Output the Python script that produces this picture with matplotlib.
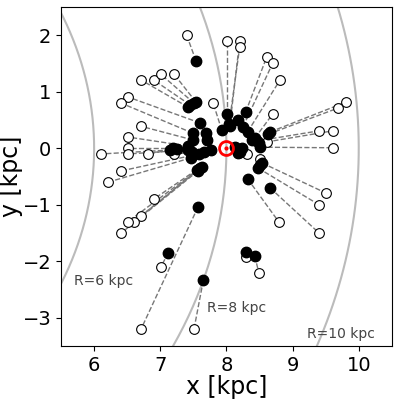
import matplotlib
matplotlib.use('Agg')
import matplotlib.pyplot as plt
import numpy as np

# current positions (filled) and past/projected positions (open), kpc
x_now = [7.54, 7.42, 7.45, 7.51, 7.54, 7.60, 7.49, 7.49, 7.42, 7.19,
         7.15, 7.42, 7.25, 7.48, 7.58, 7.46, 7.55, 7.60, 7.63, 7.58,
         7.57, 7.57, 7.12, 7.65, 8.29, 8.43, 8.54, 8.48, 8.32, 8.66,
         8.01, 8.05, 8.04, 7.93, 8.29, 8.25, 8.32, 8.43, 8.66, 8.63,
         8.46, 8.49, 8.51, 8.39, 8.20, 8.51, 8.13, 8.17, 8.23, 8.17,
         7.69, 7.71, 7.77, 7.66, 8.17]
y_now = [1.55, 0.73, 0.77, 0.80, 0.82, 0.45, 0.27, 0.15, 0.04, 0.01,
         -0.03, -0.03, -0.01, -0.07, -0.10, -0.17, -0.38, -0.35, -0.33, -0.37,
         -0.40, -1.04, -1.85, -2.34, -1.84, -1.91, -0.26, -0.35, -0.54, -0.70,
         0.61, 0.39, 0.43, 0.32, 0.64, 0.38, 0.29, 0.18, 0.29, 0.25,
         0.13, 0.09, 0.02, 0.15, -0.07, -0.30, 0.02, -0.03, 0.01, -0.08,
         0.27, 0.14, -0.03, -0.06, 0.50]
x_then = [7.40, 6.71, 6.90, 7.01, 7.21, 6.51, 6.41, 6.71, 6.51, 6.51,
          6.10, 6.51, 6.81, 7.21, 6.41, 6.21, 6.90, 6.71, 6.60, 6.51,
          6.41, 6.71, 7.01, 7.51, 8.29, 8.49, 9.50, 9.40, 8.79, 9.40,
          8.01, 8.20, 8.20, 7.80, 8.61, 8.70, 8.81, 8.70, 9.81, 9.68,
          9.40, 9.61, 9.61, 8.61, 8.31, 8.51, 8.13, 8.17, 8.23, 8.17,
          7.69, 7.71, 7.77, 7.66, 8.17]
y_then = [2.00, 1.21, 1.21, 1.31, 1.31, 0.91, 0.80, 0.39, 0.20, 0.01,
          -0.10, -0.10, -0.10, -0.10, -0.40, -0.60, -0.90, -1.20, -1.30, -1.30,
          -1.50, -3.20, -2.10, -3.20, -1.92, -2.21, -0.79, -1.00, -1.30, -1.50,
          1.90, 1.90, 1.79, 0.80, 1.62, 1.51, 1.21, 0.61, 0.82, 0.71,
          0.31, 0.31, 0.01, 0.11, -0.10, -0.19, 0.02, -0.03, 0.01, -0.08,
          0.27, 0.14, -0.03, -0.06, 0.50]

radii = [6, 8, 10]
radius_labels = ['R=6 kpc', 'R=8 kpc', 'R=10 kpc']
label_x = [5.7, 7.7, 9.22]
label_y = [-2.35, -2.83, -3.28]

sun_x, sun_y = 8.0, 0.0

fig = plt.figure(figsize=(3.99, 3.99), dpi=100)
ax = fig.add_axes([0.153, 0.133, 0.829, 0.849])

theta = np.linspace(-np.pi / 2, np.pi / 2, 400)
for r in radii:
    ax.plot(r * np.cos(theta), r * np.sin(theta), color='#bbbbbb', lw=1.5, zorder=1)
for t, lx, ly in zip(radius_labels, label_x, label_y):
    ax.text(lx, ly, t, fontsize=10, color='#444444', ha='left', va='center')

for x0, y0, x1, y1 in zip(x_now, y_now, x_then, y_then):
    ax.plot([x0, x1], [y0, y1], ls='--', color='#777777', lw=1.0, zorder=2)

ax.plot(x_then, y_then, 'o', ms=7, mfc='white', mec='black', mew=0.8, ls='none', zorder=3)
ax.plot(x_now, y_now, 'o', ms=7.5, color='black', ls='none', zorder=4)

ax.plot(sun_x, sun_y, 'o', ms=10, mfc='none', mec='red', mew=2, zorder=5)
ax.plot(sun_x, sun_y, 'o', ms=2, color='red', zorder=5)

ax.set_xlim(5.5, 10.5)
ax.set_ylim(-3.5, 2.5)
ax.set_xticks([6, 7, 8, 9, 10])
ax.set_yticks([-3, -2, -1, 0, 1, 2])
ax.tick_params(labelsize=14)
ax.set_xlabel('x [kpc]', fontsize=17, labelpad=0)
ax.set_ylabel('y [kpc]', fontsize=17, labelpad=0)

plt.savefig('out.png', dpi=100)
